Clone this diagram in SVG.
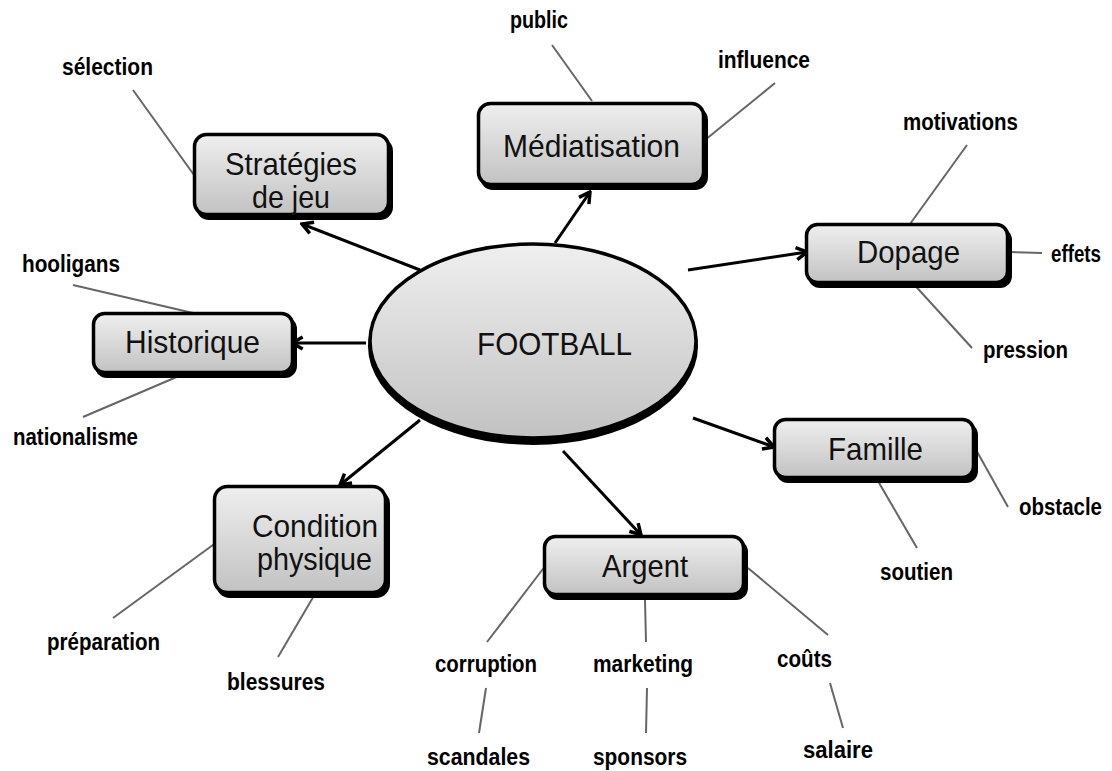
<svg xmlns="http://www.w3.org/2000/svg" width="1112" height="771" viewBox="0 0 1112 771">
<defs>
<linearGradient id="g" x1="0" y1="0" x2="0" y2="1">
<stop offset="0" stop-color="#efefef"/>
<stop offset="1" stop-color="#c2c2c2"/>
</linearGradient>
<marker id="ah" viewBox="0 0 12 12" refX="10.5" refY="6" markerWidth="16" markerHeight="16" markerUnits="userSpaceOnUse" orient="auto">
<path d="M2.5,1.5 L10.5,6 L2.5,10.5" fill="none" stroke="#000" stroke-width="2.6" stroke-linejoin="miter"/>
</marker>
<style>
.box{fill:url(#g);stroke:#000;stroke-width:3.5}
.sh{fill:#000}
.bt{font-family:"Liberation Sans",Arial,sans-serif;font-size:32px;fill:#111}
.lf{font-family:"Liberation Sans",Arial,sans-serif;font-size:23px;font-weight:bold;fill:#000}
.ln{stroke:#666;stroke-width:2;fill:none}
.ar{stroke:#000;stroke-width:3;fill:none;marker-end:url(#ah)}
</style>
</defs>
<rect width="1112" height="771" fill="#fff"/>

<g id="connectors">
<line class="ar" x1="420" y1="270" x2="302" y2="224"/>
<line class="ar" x1="555" y1="243" x2="590" y2="192"/>
<line class="ar" x1="688" y1="270" x2="807" y2="252"/>
<line class="ar" x1="366" y1="343" x2="292" y2="343"/>
<line class="ar" x1="420" y1="420" x2="340" y2="485"/>
<line class="ar" x1="693" y1="418" x2="774" y2="447"/>
<line class="ar" x1="563" y1="451" x2="641" y2="535"/>
<line class="ln" x1="133" y1="90" x2="194" y2="175"/>
<line class="ln" x1="552" y1="45" x2="592" y2="101"/>
<line class="ln" x1="775" y1="83" x2="705" y2="140"/>
<line class="ln" x1="967" y1="145" x2="910" y2="224"/>
<line class="ln" x1="1008" y1="252" x2="1042" y2="253"/>
<line class="ln" x1="910" y1="280" x2="972" y2="348"/>
<line class="ln" x1="73" y1="285" x2="193" y2="313"/>
<line class="ln" x1="193" y1="370" x2="83" y2="417"/>
<line class="ln" x1="975" y1="448" x2="1008" y2="507"/>
<line class="ln" x1="875" y1="476" x2="917" y2="548"/>
<line class="ln" x1="217" y1="542" x2="113" y2="618"/>
<line class="ln" x1="315" y1="594" x2="278" y2="657"/>
<line class="ln" x1="546" y1="565" x2="487" y2="642"/>
<line class="ln" x1="645" y1="600" x2="646" y2="642"/>
<line class="ln" x1="748" y1="568" x2="828" y2="635"/>
<line class="ln" x1="486" y1="688" x2="479" y2="733"/>
<line class="ln" x1="647" y1="688" x2="646" y2="733"/>
<line class="ln" x1="830" y1="683" x2="843" y2="728"/>
</g>

<g id="football">
<ellipse class="sh" cx="533" cy="346" rx="165" ry="99"/>
<ellipse class="box" cx="533" cy="341" rx="163" ry="97"/>
<text class="bt" x="477" y="355" textLength="155" lengthAdjust="spacingAndGlyphs" font-size="35">FOOTBALL</text>
</g>

<g id="strategies">
<rect class="sh" x="196" y="138" width="197" height="82" rx="13"/>
<rect class="box" x="194.5" y="134.5" width="194" height="80" rx="12"/>
<text class="bt" x="225" y="175" textLength="132" lengthAdjust="spacingAndGlyphs">Stratégies</text>
<text class="bt" x="252" y="208" textLength="78" lengthAdjust="spacingAndGlyphs">de jeu</text>
</g>

<g id="mediatisation">
<rect class="sh" x="480" y="107" width="228" height="83" rx="13"/>
<rect class="box" x="478.5" y="103.5" width="225" height="81" rx="12"/>
<text class="bt" x="503" y="157" textLength="177" lengthAdjust="spacingAndGlyphs">Médiatisation</text>
</g>

<g id="dopage">
<rect class="sh" x="808" y="228" width="204" height="60" rx="12"/>
<rect class="box" x="806.5" y="224.5" width="201" height="58" rx="11"/>
<text class="bt" x="857" y="263" textLength="103" lengthAdjust="spacingAndGlyphs">Dopage</text>
</g>

<g id="historique">
<rect class="sh" x="95" y="317" width="202" height="61" rx="12"/>
<rect class="box" x="93.5" y="313.5" width="199" height="59" rx="11"/>
<text class="bt" x="125" y="353" textLength="135" lengthAdjust="spacingAndGlyphs">Historique</text>
</g>

<g id="famille">
<rect class="sh" x="776" y="423" width="202" height="60" rx="12"/>
<rect class="box" x="774.5" y="419.5" width="199" height="58" rx="11"/>
<text class="bt" x="828" y="460" textLength="95" lengthAdjust="spacingAndGlyphs">Famille</text>
</g>

<g id="argent">
<rect class="sh" x="546" y="540" width="202" height="60" rx="12"/>
<rect class="box" x="544.5" y="536.5" width="199" height="58" rx="11"/>
<text class="bt" x="602" y="577" textLength="86" lengthAdjust="spacingAndGlyphs">Argent</text>
</g>

<g id="condition">
<rect class="sh" x="216" y="490" width="174" height="108" rx="14"/>
<rect class="box" x="214.5" y="486.5" width="171" height="106" rx="13"/>
<text class="bt" x="252" y="537" textLength="126" lengthAdjust="spacingAndGlyphs">Condition</text>
<text class="bt" x="257" y="570" textLength="115" lengthAdjust="spacingAndGlyphs">physique</text>
</g>

<g id="leaves">
<text class="lf" x="62" y="75" textLength="91" lengthAdjust="spacingAndGlyphs">sélection</text>
<text class="lf" x="510" y="28" textLength="58" lengthAdjust="spacingAndGlyphs">public</text>
<text class="lf" x="718" y="68" textLength="92" lengthAdjust="spacingAndGlyphs">influence</text>
<text class="lf" x="903" y="130" textLength="115" lengthAdjust="spacingAndGlyphs">motivations</text>
<text class="lf" x="1051" y="262" textLength="50" lengthAdjust="spacingAndGlyphs">effets</text>
<text class="lf" x="983" y="358" textLength="85" lengthAdjust="spacingAndGlyphs">pression</text>
<text class="lf" x="22" y="272" textLength="98" lengthAdjust="spacingAndGlyphs">hooligans</text>
<text class="lf" x="13" y="445" textLength="125" lengthAdjust="spacingAndGlyphs">nationalisme</text>
<text class="lf" x="1019" y="515" textLength="83" lengthAdjust="spacingAndGlyphs">obstacle</text>
<text class="lf" x="880" y="580" textLength="73" lengthAdjust="spacingAndGlyphs">soutien</text>
<text class="lf" x="47" y="650" textLength="113" lengthAdjust="spacingAndGlyphs">préparation</text>
<text class="lf" x="227" y="690" textLength="98" lengthAdjust="spacingAndGlyphs">blessures</text>
<text class="lf" x="435" y="672" textLength="102" lengthAdjust="spacingAndGlyphs">corruption</text>
<text class="lf" x="593" y="672" textLength="100" lengthAdjust="spacingAndGlyphs">marketing</text>
<text class="lf" x="777" y="667" textLength="55" lengthAdjust="spacingAndGlyphs">coûts</text>
<text class="lf" x="427" y="765" textLength="103" lengthAdjust="spacingAndGlyphs">scandales</text>
<text class="lf" x="593" y="765" textLength="94" lengthAdjust="spacingAndGlyphs">sponsors</text>
<text class="lf" x="803" y="758" textLength="70" lengthAdjust="spacingAndGlyphs">salaire</text>
</g>
</svg>
